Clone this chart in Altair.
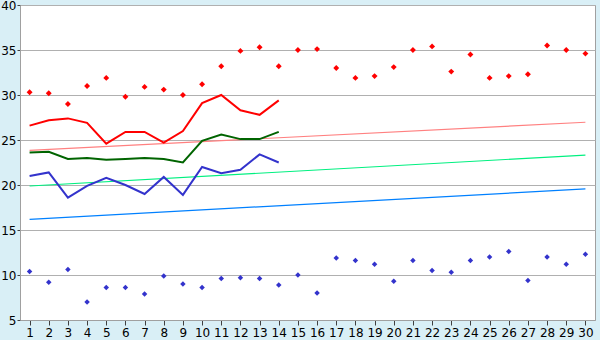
import altair as alt
import pandas as pd

days = list(range(1, 31))
rec_max = [30.3, 30.2, 29.0, 31.0, 31.9, 29.8, 30.9, 30.6, 30.0, 31.2,
           33.2, 34.9, 35.3, 33.2, 35.0, 35.1, 33.0, 31.9, 32.1, 33.1,
           35.0, 35.4, 32.6, 34.5, 31.9, 32.1, 32.3, 35.5, 35.0, 34.6]
rec_min = [10.4, 9.2, 10.6, 7.0, 8.6, 8.6, 7.9, 9.9, 9.0, 8.6,
           9.6, 9.7, 9.6, 8.9, 10.0, 8.0, 11.9, 11.6, 11.2, 9.3,
           11.6, 10.5, 10.3, 11.6, 12.0, 12.6, 9.4, 12.0, 11.2, 12.3]
obs_days = list(range(1, 15))
obs_max = [26.6, 27.2, 27.4, 26.9, 24.6, 25.9, 25.9, 24.7, 26.0, 29.1, 30.0, 28.3, 27.8, 29.4]
obs_mean = [23.6, 23.7, 22.9, 23.0, 22.8, 22.9, 23.0, 22.9, 22.5, 24.9, 25.6, 25.1, 25.1, 25.9]
obs_min = [21.0, 21.4, 18.6, 19.9, 20.8, 20.0, 19.0, 20.9, 18.9, 22.0, 21.3, 21.7, 23.4, 22.5]
norm_days = [1, 30]
norm_max = [23.85, 26.97]
norm_mean = [19.89, 23.33]
norm_min = [16.19, 19.56]

x_enc = alt.X("day:Q", scale=alt.Scale(domain=[0.5, 30.5], nice=False, zero=False),
              axis=alt.Axis(values=days, title=None, grid=False, tickSize=5,
                            labelFontSize=12, labelPadding=2, domainColor="#a0a0a0",
                            tickColor="#404040", labelColor="#000000",
                            labelFont="DejaVu Sans"))
y_scale = alt.Scale(domain=[5, 40], nice=False, zero=False)
y_axis = alt.Axis(values=[5, 10, 15, 20, 25, 30, 35, 40], title=None, grid=True,
                  gridColor="#b0b0b0", tickSize=3, labelFontSize=12, labelPadding=1,
                  domainColor="#a0a0a0", tickColor="#404040", labelColor="#000000",
                  labelFont="DejaVu Sans")

df_rec = pd.DataFrame({"day": days, "max": rec_max, "min": rec_min})
df_obs = pd.DataFrame({"day": obs_days, "max": obs_max, "mean": obs_mean, "min": obs_min})
df_norm = pd.DataFrame({"day": norm_days, "max": norm_max, "mean": norm_mean, "min": norm_min})

base_norm = alt.Chart(df_norm)
nmax = base_norm.mark_line(color="#ff8080", strokeWidth=1.2).encode(x=x_enc, y=alt.Y("max:Q", scale=y_scale, axis=y_axis))
nmean = base_norm.mark_line(color="#00f080", strokeWidth=1.2).encode(x=x_enc, y=alt.Y("mean:Q", scale=y_scale))
nmin = base_norm.mark_line(color="#0080ff", strokeWidth=1.2).encode(x=x_enc, y=alt.Y("min:Q", scale=y_scale))

base_obs = alt.Chart(df_obs)
omax = base_obs.mark_line(color="#ff0000", strokeWidth=2).encode(x=x_enc, y=alt.Y("max:Q", scale=y_scale))
omean = base_obs.mark_line(color="#006400", strokeWidth=2).encode(x=x_enc, y=alt.Y("mean:Q", scale=y_scale))
omin = base_obs.mark_line(color="#3333cc", strokeWidth=2).encode(x=x_enc, y=alt.Y("min:Q", scale=y_scale))

base_rec = alt.Chart(df_rec)
rmax = base_rec.mark_point(shape="diamond", filled=True, color="#ff0000", size=35, opacity=1).encode(
    x=x_enc, y=alt.Y("max:Q", scale=y_scale))
rmin = base_rec.mark_point(shape="diamond", filled=True, color="#3333cc", size=30, opacity=1).encode(
    x=x_enc, y=alt.Y("min:Q", scale=y_scale))

chart = alt.layer(nmax, nmean, nmin, omax, omean, omin, rmax, rmin).properties(
    width=575, height=315,
    autosize=alt.AutoSizeParams(type="none"),
    padding={"left": 20, "top": 5, "right": 5, "bottom": 20},
    background="#d9eff6",
).configure_view(fill="#ffffff", stroke="#a0a0a0", strokeWidth=1)

chart.save("out.html", embed_options={"renderer": "svg", "actions": False})
